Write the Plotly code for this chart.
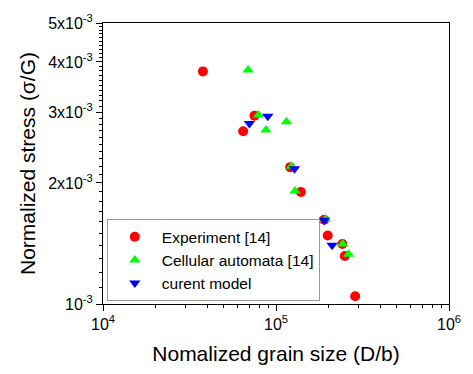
import plotly.graph_objects as go
import numpy as np

# Data
exp_x = [37800, 64600, 75100, 120800, 139300, 190000, 199000, 242000, 250000, 287000]
exp_y = [3.79e-3, 2.69e-3, 2.94e-3, 2.19e-3, 1.90e-3, 1.62e-3, 1.48e-3, 1.41e-3, 1.316e-3, 1.045e-3]

ca_x = [69000, 79300, 87500, 115000, 122900, 128800, 193000, 243000, 263000]
ca_y = [3.82e-3, 2.95e-3, 2.71e-3, 2.84e-3, 2.20e-3, 1.91e-3, 1.625e-3, 1.41e-3, 1.33e-3]

cm_x = [70200, 89600, 127900, 190500, 211000]
cm_y = [2.81e-3, 2.93e-3, 2.17e-3, 1.615e-3, 1.40e-3]

y_tickvals = [1e-3, 2e-3, 3e-3, 4e-3, 5e-3]
y_ticktext = ["10<sup>-3</sup>", "2x10<sup>-3</sup>", "3x10<sup>-3</sup>", "4x10<sup>-3</sup>", "5x10<sup>-3</sup>"]
x_tickvals = [1e4, 1e5, 1e6]
x_ticktext = ["10<sup>4</sup>", "10<sup>5</sup>", "10<sup>6</sup>"]

FONT = "Liberation Sans, Arial, sans-serif"

fig = go.Figure()
fig.add_trace(go.Scatter(x=exp_x, y=exp_y, mode="markers", name="Experiment [14]",
                         marker=dict(symbol="circle", size=10, color="#ff0000")))
fig.add_trace(go.Scatter(x=ca_x, y=ca_y, mode="markers", name="Cellular automata [14]",
                         marker=dict(symbol="triangle-up", size=10, color="#00ff00")))
fig.add_trace(go.Scatter(x=cm_x, y=cm_y, mode="markers", name="curent model",
                         marker=dict(symbol="triangle-down", size=10, color="#0000ff")))

x_minor = [m * 10**k for k in (4, 5) for m in range(2, 10)]
y_minor = [round(v, 5) for v in np.arange(1.1e-3, 5.0e-3, 1e-4)]

fig.update_layout(
    width=473, height=374,
    margin=dict(l=103, r=17, t=18, b=67),
    paper_bgcolor="white", plot_bgcolor="white",
    font=dict(family=FONT, size=15, color="black"),
    showlegend=True,
    legend=dict(x=0.011, y=0.01, xanchor="left", yanchor="bottom",
                bordercolor="#999999", borderwidth=1, bgcolor="white",
                font=dict(size=15.5, family=FONT), itemwidth=44, tracegroupgap=0),
    xaxis=dict(type="log", range=[4, 6], tickmode="array", tickvals=x_tickvals, ticktext=x_ticktext,
               ticks="outside", ticklen=6, tickcolor="black", showline=True, linecolor="black",
               linewidth=1, mirror=True, showgrid=False, zeroline=False, ticklabeloverflow="allow",
               tickfont=dict(size=16, family=FONT),
               minor=dict(tickmode="array", tickvals=x_minor, ticks="outside", ticklen=3, tickcolor="black", showgrid=False),
               title=dict(text="Nomalized grain size (D/b)", font=dict(size=21, family=FONT), standoff=14)),
    yaxis=dict(type="log", range=[-3, np.log10(5e-3)], tickmode="array", tickvals=y_tickvals, ticktext=y_ticktext,
               ticks="outside", ticklen=6, tickcolor="black", showline=True, linecolor="black",
               linewidth=1, mirror=True, showgrid=False, zeroline=False, ticklabeloverflow="allow",
               tickfont=dict(size=16, family=FONT),
               minor=dict(tickmode="array", tickvals=y_minor, ticks="outside", ticklen=3, tickcolor="black", showgrid=False),
               title=dict(text="Normalized stress (σ/G)", font=dict(size=21, family=FONT), standoff=6)),
)

fig.write_html("out.html", config={"displayModeBar": False},
               post_script="document.body.style.margin='0';document.body.style.overflow='hidden';")
